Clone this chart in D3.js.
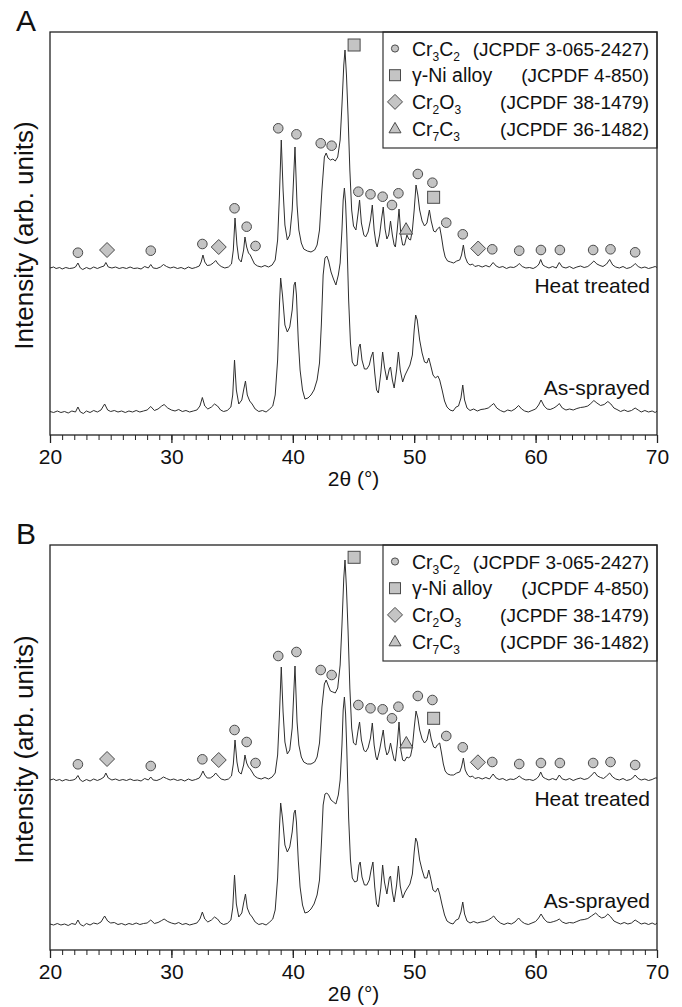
<!DOCTYPE html>
<html>
<head>
<meta charset="utf-8">
<script src="https://cdn.jsdelivr.net/npm/d3@7"></script>
<style>
body { margin: 0; background: #fff; }
svg { display: block; font-family: "Liberation Sans", Arial, sans-serif; }
</style>
</head>
<body>
<svg id="chart" width="682" height="1007"></svg>
<script>
// 2theta (deg), intensity (arb. units, offset traces as plotted)
const heatA = [[20.0,167],[20.3,168],[20.5,166.5],[20.8,167.5],[21.0,166],[21.3,167.5],[21.6,166.5],[21.9,167],[22.1,168],[22.3,172],[22.5,167],[22.7,165.5],[23.0,167.5],[23.3,166],[23.6,168],[23.9,166.5],[24.2,168],[24.45,169],[24.6,172.5],[24.8,168],[25.1,167],[25.4,168],[25.7,166.5],[26.0,167.5],[26.3,166.5],[26.6,168],[26.9,166.5],[27.2,167],[27.5,166],[27.8,168.5],[28.1,167],[28.3,170.5],[28.5,167],[28.8,166.5],[29.1,168],[29.35,170.5],[29.6,168.5],[29.9,167],[30.2,168],[30.5,166.5],[30.8,167.5],[31.1,166],[31.4,168],[31.7,166.5],[32.0,167.5],[32.3,169],[32.45,173],[32.6,180],[32.75,173],[32.95,169.5],[33.2,170],[33.45,172],[33.65,174.5],[33.85,171],[34.1,168.5],[34.4,167],[34.7,168],[34.95,171],[35.1,185],[35.24,217],[35.4,190],[35.55,176],[35.75,173],[35.95,185],[36.06,198],[36.2,188],[36.35,182],[36.5,180],[36.65,176],[36.85,171],[37.1,169],[37.4,168],[37.7,169.5],[38.0,168],[38.3,170],[38.55,175],[38.75,195],[38.9,240],[39.05,295],[39.2,245],[39.35,210],[39.55,195],[39.75,200],[39.95,225],[40.18,288],[40.35,230],[40.5,205],[40.7,192],[40.9,186],[41.2,184],[41.5,183],[41.8,185],[42.0,190],[42.2,205],[42.4,245],[42.6,278],[42.75,282],[42.9,277],[43.1,275],[43.3,276],[43.5,274],[43.7,278],[43.9,295],[44.05,330],[44.2,370],[44.3,385],[44.42,360],[44.55,320],[44.7,265],[44.85,225],[45.0,209],[45.2,205],[45.38,222],[45.5,235],[45.65,212],[45.85,200],[46.0,198],[46.2,203],[46.4,215],[46.55,230],[46.7,205],[46.85,192],[46.95,188],[47.15,200],[47.3,215],[47.45,228],[47.6,206],[47.75,196],[47.9,200],[48.05,214],[48.2,200],[48.35,190],[48.45,188],[48.6,205],[48.75,226],[48.9,200],[49.05,190],[49.2,190],[49.4,200],[49.55,196],[49.7,195],[49.85,205],[50.0,225],[50.15,250],[50.3,240],[50.45,225],[50.65,214],[50.85,209],[51.05,212],[51.25,225],[51.4,214],[51.6,204],[51.75,203],[51.9,206],[52.1,208],[52.25,198],[52.4,186],[52.55,178],[52.75,174],[53.0,173],[53.25,172],[53.5,174],[53.75,175],[53.9,180],[54.05,190],[54.2,178],[54.4,172],[54.6,170],[54.8,171],[55.0,168.5],[55.3,169.5],[55.6,168],[55.9,169.5],[56.2,168],[56.5,172.5],[56.75,169],[57.0,167.5],[57.3,168.5],[57.6,166.5],[57.9,168],[58.2,167.5],[58.45,169],[58.65,171.5],[58.9,168.5],[59.2,167],[59.5,167.5],[59.8,166.5],[60.1,168.5],[60.28,171],[60.42,175.5],[60.6,170],[60.8,168.5],[61.1,167],[61.4,168.5],[61.7,167],[61.95,172.5],[62.2,168],[62.5,167],[62.8,168.5],[63.1,166.5],[63.4,168],[63.7,169],[64.0,167.5],[64.3,168.5],[64.55,171],[64.8,174],[65.05,171],[65.3,169.5],[65.55,168.5],[65.85,171],[66.1,175.5],[66.35,170],[66.6,168],[66.9,167],[67.2,168.5],[67.5,166.5],[67.8,167.5],[68.0,169],[68.2,171.5],[68.45,168.5],[68.7,167],[69.0,168],[69.3,166.5],[69.6,167.5],[69.85,168.5],[70.0,167.5]];

const sprayedA = [[20.0,23.5],[20.3,22.5],[20.6,24],[20.9,22.5],[21.2,23.5],[21.5,22],[21.8,24],[22.1,23],[22.3,28],[22.5,23],[22.75,21.5],[23.0,24],[23.3,22.5],[23.6,24.5],[23.9,23],[24.2,25],[24.5,31],[24.75,25],[25.0,23.5],[25.3,24.5],[25.6,23],[25.9,24],[26.2,22.5],[26.5,24],[26.8,23],[27.1,24.5],[27.4,23],[27.7,24],[28.0,25],[28.3,28.5],[28.6,24.5],[28.9,26],[29.2,29],[29.4,30.5],[29.7,27],[30.0,25],[30.3,24],[30.6,25.5],[30.9,23.5],[31.2,24.5],[31.5,23],[31.8,24],[32.1,25],[32.35,29],[32.55,37.5],[32.75,29],[33.0,26],[33.3,28],[33.55,31],[33.8,29],[34.05,25],[34.3,23.5],[34.6,24.5],[34.9,28],[35.05,40],[35.2,75],[35.35,45],[35.55,31],[35.8,35],[35.95,45],[36.1,54],[36.25,40],[36.45,34],[36.65,31],[36.9,26],[37.2,23.5],[37.5,24.5],[37.8,23],[38.1,26],[38.35,29],[38.55,40],[38.75,75],[38.9,130],[39.0,157],[39.15,140],[39.35,110],[39.55,103],[39.75,108],[39.95,125],[40.1,150],[40.2,153],[40.3,140],[40.45,95],[40.6,65],[40.8,45],[41.0,36],[41.25,37],[41.5,40],[41.75,45],[42.0,55],[42.2,72],[42.35,110],[42.5,160],[42.65,177],[42.8,179],[42.95,174],[43.15,163],[43.35,156],[43.55,150],[43.75,160],[43.9,172],[44.05,205],[44.15,235],[44.25,247],[44.35,232],[44.45,200],[44.6,135],[44.75,92],[44.9,73],[45.1,69],[45.3,70],[45.45,88],[45.55,91],[45.7,75],[45.9,66],[46.1,66],[46.3,70],[46.45,78],[46.6,83],[46.75,62],[46.9,45],[47.05,42],[47.25,62],[47.4,83],[47.55,68],[47.75,55],[47.95,66],[48.05,68],[48.2,55],[48.35,47],[48.55,65],[48.7,83],[48.85,65],[49.05,53],[49.25,60],[49.45,65],[49.65,70],[49.85,80],[50.0,105],[50.12,120],[50.25,115],[50.45,95],[50.65,82],[50.85,73],[51.05,72],[51.2,77],[51.35,70],[51.55,60],[51.75,57],[51.95,59],[52.1,55],[52.3,45],[52.5,34],[52.7,28],[52.95,25],[53.2,24],[53.45,28],[53.65,29],[53.85,37],[54.0,50],[54.15,35],[54.35,27],[54.6,24.5],[54.9,26],[55.2,24],[55.5,25.5],[55.8,26],[56.1,27],[56.35,29.5],[56.55,31.5],[56.8,27],[57.1,24.5],[57.4,23],[57.7,25],[58.0,24],[58.3,26],[58.6,29.5],[58.85,26],[59.1,24],[59.4,23],[59.7,24.5],[60.0,26],[60.25,30],[60.45,35],[60.7,29],[60.95,26],[61.2,25.5],[61.5,27],[61.75,29],[61.95,31.5],[62.2,27],[62.5,25],[62.8,26],[63.1,25],[63.4,26.5],[63.7,27.5],[64.0,28],[64.3,29],[64.55,31.5],[64.8,34.5],[65.05,32],[65.35,29.5],[65.65,30.5],[65.95,33.5],[66.2,31],[66.45,27],[66.7,25.5],[67.0,23.5],[67.3,25],[67.6,23.5],[67.9,24.5],[68.2,27],[68.45,25],[68.7,23],[69.0,24.5],[69.3,23],[69.6,24],[69.85,22.5],[70.0,24]];

const heatB = [[20.0,170],[20.3,171],[20.5,169.5],[20.8,170.5],[21.0,169],[21.3,170.5],[21.6,169.5],[21.9,170],[22.1,171],[22.3,174.5],[22.5,170],[22.7,168.5],[23.0,170.5],[23.3,169],[23.6,171],[23.9,169.5],[24.2,171],[24.45,173],[24.6,177],[24.8,172],[25.1,170],[25.4,171],[25.7,169.5],[26.0,170.5],[26.3,169.5],[26.6,171],[26.9,169.5],[27.2,170],[27.5,169],[27.8,171.5],[28.1,170],[28.3,173],[28.5,170],[28.8,169.5],[29.1,171],[29.35,173],[29.6,171.5],[29.9,170],[30.2,171],[30.5,169.5],[30.8,170.5],[31.1,169],[31.4,171],[31.7,169.5],[32.0,170.5],[32.3,172],[32.45,175],[32.6,179],[32.75,175],[32.95,172],[33.2,172],[33.45,174],[33.65,177],[33.85,174],[34.1,171],[34.4,170],[34.7,171],[34.95,174],[35.1,186],[35.24,210],[35.4,188],[35.55,178],[35.75,176],[35.95,185],[36.06,195],[36.2,187],[36.35,183],[36.5,181],[36.65,178],[36.85,174],[37.1,172],[37.4,171],[37.7,172.5],[38.0,171],[38.3,173],[38.55,177],[38.75,195],[38.9,235],[39.05,283],[39.2,238],[39.35,208],[39.55,196],[39.75,200],[39.95,222],[40.18,284],[40.35,228],[40.5,205],[40.7,193],[40.9,188],[41.2,186],[41.5,186],[41.8,188],[42.0,193],[42.2,207],[42.4,243],[42.6,266],[42.75,270],[42.9,265],[43.1,259],[43.3,258],[43.5,257],[43.7,262],[43.9,285],[44.05,325],[44.2,372],[44.3,390],[44.42,362],[44.55,320],[44.7,262],[44.85,222],[45.0,207],[45.2,205],[45.38,220],[45.5,228],[45.65,210],[45.85,200],[46.0,198],[46.2,202],[46.4,212],[46.55,227],[46.7,205],[46.85,193],[46.95,190],[47.15,200],[47.3,210],[47.45,220],[47.6,203],[47.75,195],[47.9,198],[48.05,207],[48.2,198],[48.35,190],[48.45,189],[48.6,205],[48.75,228],[48.9,200],[49.05,190],[49.2,189],[49.4,193],[49.55,192],[49.7,194],[49.85,203],[50.0,222],[50.15,239],[50.3,232],[50.45,220],[50.65,211],[50.85,207],[51.05,210],[51.25,221],[51.4,211],[51.6,203],[51.75,202],[51.9,205],[52.1,207],[52.25,197],[52.4,186],[52.55,179],[52.75,176],[53.0,175],[53.25,175],[53.5,177],[53.75,178],[53.9,183],[54.05,192],[54.2,180],[54.4,175],[54.6,173],[54.8,174],[55.0,171.5],[55.3,172.5],[55.6,171],[55.9,172.5],[56.2,171],[56.5,176],[56.75,172],[57.0,170.5],[57.3,171.5],[57.6,169.5],[57.9,171],[58.2,170.5],[58.45,172],[58.65,174],[58.9,171.5],[59.2,170],[59.5,170.5],[59.8,169.5],[60.1,171.5],[60.28,174],[60.42,178],[60.6,173],[60.8,171.5],[61.1,170],[61.4,171.5],[61.7,170],[61.95,175],[62.2,171],[62.5,170],[62.8,171.5],[63.1,169.5],[63.4,171],[63.7,172],[64.0,170.5],[64.3,171.5],[64.55,174],[64.85,178],[65.1,174],[65.35,172.5],[65.6,171.5],[65.85,174],[66.1,177],[66.35,173],[66.6,171],[66.9,170],[67.2,171.5],[67.5,169.5],[67.8,170.5],[68.0,172],[68.2,175],[68.45,171.5],[68.7,170],[69.0,171],[69.3,169.5],[69.6,170.5],[69.85,172],[70.0,172]];

const sprayedB = [[20.0,26],[20.3,25],[20.6,26.5],[20.9,25],[21.2,26],[21.5,24.5],[21.8,26.5],[22.1,25.5],[22.3,30],[22.5,25.5],[22.75,24],[23.0,26.5],[23.3,25],[23.6,27],[23.9,26],[24.2,28],[24.5,34],[24.75,29],[25.0,27],[25.3,27.5],[25.6,25.5],[25.9,26.5],[26.2,25],[26.5,26.5],[26.8,25.5],[27.1,27],[27.4,25.5],[27.7,26.5],[28.0,27],[28.3,30],[28.6,26.5],[28.9,27.5],[29.2,29.5],[29.4,31],[29.7,28.5],[30.0,27],[30.3,26],[30.6,27.5],[30.9,25.5],[31.2,26.5],[31.5,25],[31.8,26],[32.1,27],[32.35,31],[32.55,38],[32.75,31],[33.0,28],[33.3,30],[33.55,33],[33.8,31],[34.05,27],[34.3,25.5],[34.6,26.5],[34.9,30],[35.05,42],[35.2,75],[35.35,46],[35.55,33],[35.8,37],[35.95,47],[36.1,56],[36.25,42],[36.45,36],[36.65,33],[36.9,28],[37.2,25.5],[37.5,26.5],[37.8,25],[38.1,28],[38.35,31],[38.55,40],[38.75,72],[38.9,122],[39.0,147],[39.15,132],[39.35,105],[39.55,98],[39.75,103],[39.95,118],[40.1,137],[40.2,140],[40.3,128],[40.45,90],[40.6,63],[40.8,45],[41.0,37],[41.25,38],[41.5,41],[41.75,46],[42.0,55],[42.2,70],[42.35,105],[42.5,145],[42.65,156],[42.8,157],[42.95,155],[43.15,150],[43.35,148],[43.55,146],[43.75,155],[43.9,170],[44.05,205],[44.15,240],[44.25,253],[44.35,236],[44.45,200],[44.6,132],[44.75,90],[44.9,72],[45.1,68],[45.3,69],[45.45,85],[45.55,88],[45.7,73],[45.9,65],[46.1,65],[46.3,70],[46.45,80],[46.6,88],[46.75,63],[46.9,46],[47.05,43],[47.25,62],[47.4,85],[47.55,68],[47.75,56],[47.95,72],[48.05,74],[48.2,58],[48.35,48],[48.55,65],[48.7,84],[48.85,64],[49.05,52],[49.25,58],[49.45,62],[49.65,66],[49.85,76],[50.0,98],[50.12,112],[50.25,108],[50.45,90],[50.65,80],[50.85,72],[51.05,72],[51.2,80],[51.35,72],[51.55,60],[51.75,58],[51.95,62],[52.1,56],[52.3,45],[52.5,35],[52.7,29],[52.95,27],[53.2,26],[53.45,30],[53.65,31],[53.85,38],[54.0,48],[54.15,36],[54.35,29],[54.6,27],[54.9,28.5],[55.2,27],[55.5,28],[55.8,28.5],[56.1,30],[56.35,32],[56.55,34],[56.8,30],[57.1,27],[57.4,25.5],[57.7,27],[58.0,26],[58.3,28],[58.6,32],[58.85,28.5],[59.1,26.5],[59.4,25.5],[59.7,27],[60.0,28.5],[60.25,32],[60.45,36],[60.7,31],[60.95,28],[61.2,27.5],[61.5,28.5],[61.75,29.5],[61.95,31],[62.2,28],[62.5,26.5],[62.8,27.5],[63.1,27],[63.4,28.5],[63.7,30],[64.0,30.5],[64.3,31.5],[64.6,34],[64.95,37],[65.2,34],[65.45,32],[65.7,33],[65.95,36],[66.2,33],[66.45,29],[66.7,27.5],[67.0,26],[67.3,27.5],[67.6,26],[67.9,27],[68.2,30],[68.45,28],[68.7,26],[69.0,27],[69.3,25.5],[69.6,27],[69.85,25.5],[70.0,27]];

// phase markers [2theta, height]
const cr3c2A = [[22.3,182.3],[28.3,184.3],[32.55,191],[35.2,226.7],[36.2,208.3],[36.93,189],[38.8,306.7],[40.3,300.7],[42.3,291.7],[43.2,289.3],[45.4,243.3],[46.4,240.7],[47.4,238.3],[48.17,230],[48.7,241.7],[50.3,261],[51.5,252.3],[52.64,212.3],[54.0,200.7],[56.43,185.7],[58.65,184.3],[60.44,185],[62.0,185],[64.74,185],[66.17,185.7],[68.2,182.7]];
const niA = [[45.05,390],[51.6,237.7]];
const cr2o3A = [[24.7,185],[33.9,188],[55.27,186.5]];
const cr7c3A = [[49.33,205.5]];

const cr3c2B = [[22.3,185.7],[28.3,184],[32.55,190.7],[35.2,220],[36.2,208],[36.93,187],[38.8,294],[40.3,298],[42.3,280],[43.2,275],[45.4,245],[46.4,241.7],[47.4,240.7],[48.17,231.7],[48.7,243.3],[50.3,254],[51.5,250],[52.64,214],[54.0,202.7],[56.43,188],[58.65,186],[60.44,187],[62.0,187],[64.74,187],[66.17,188],[68.2,185]];
const niB = [[45.05,392.7],[51.6,231.7]];
const cr2o3B = [[24.7,191],[33.9,190],[55.25,187.7]];
const cr7c3B = [[49.35,206.7]];

const xTicks = [20, 30, 40, 50, 60, 70];
const legendRows = [
    { sym: "circle", parts: [["Cr"], ["3", 1], ["C"], ["2", 1]], ref: "(JCPDF 3-065-2427)" },
    { sym: "square", parts: [["\u03b3-Ni alloy"]], ref: "(JCPDF 4-850)" },
    { sym: "diamond", parts: [["Cr"], ["2", 1], ["O"], ["3", 1]], ref: "(JCPDF 38-1479)" },
    { sym: "triangle", parts: [["Cr"], ["7", 1], ["C"], ["3", 1]], ref: "(JCPDF 36-1482)" }
];

const svg = d3.select("#chart");
const left = 50, right = 657;
const markFill = "#c4c4c4", markStroke = "#4a4a4a";

function symbol(g, type, x, y, s) {
    if (type === "circle") {
        g.append("circle").attr("cx", x).attr("cy", y).attr("r", s);
    } else if (type === "square") {
        g.append("rect").attr("x", x - s / 2).attr("y", y - s / 2).attr("width", s).attr("height", s);
    } else if (type === "diamond") {
        g.append("path").attr("d", `M${x},${y - s}L${x + s},${y}L${x},${y + s}L${x - s},${y}Z`);
    } else {
        g.append("path").attr("d", `M${x},${y - s * 0.62}L${x + s * 0.6},${y + s * 0.42}L${x - s * 0.6},${y + s * 0.42}Z`);
    }
}

function drawPanel(p) {
    const x = d3.scaleLinear().domain([20, 70]).range([left, right]);
    const y = d3.scaleLinear().domain([0, p.yMax]).range([p.bottom, p.top]);
    const g = svg.append("g");

    const line = d3.line().x(d => x(d[0])).y(d => y(d[1]));
    [p.heat, p.sprayed].forEach(s => {
        g.append("path").datum(s)
            .attr("d", line)
            .attr("fill", "none")
            .attr("stroke", "#2e2e2e")
            .attr("stroke-width", 1)
            .attr("stroke-linejoin", "round");
    });

    const marks = g.append("g").attr("fill", markFill).attr("stroke", markStroke).attr("stroke-width", 1);
    p.cr3c2.forEach(d => symbol(marks, "circle", x(d[0]), y(d[1]), 4.8));
    p.ni.forEach(d => symbol(marks, "square", x(d[0]), y(d[1]), 12));
    p.cr2o3.forEach(d => symbol(marks, "diamond", x(d[0]), y(d[1]), 7.5));
    p.cr7c3.forEach(d => symbol(marks, "triangle", x(d[0]), y(d[1]), 11));

    g.append("text").attr("x", 650).attr("y", y(p.heatLabel))
        .attr("text-anchor", "end").attr("dominant-baseline", "central")
        .attr("font-size", 21).attr("fill", "#111").text("Heat treated");
    g.append("text").attr("x", 650).attr("y", y(p.sprayLabel))
        .attr("text-anchor", "end").attr("dominant-baseline", "central")
        .attr("font-size", 21).attr("fill", "#111").text("As-sprayed");

    // legend box sits in the top right corner of the frame
    const lg = g.append("g").attr("transform", `translate(383, ${p.top})`);
    lg.append("rect").attr("width", right - 383).attr("height", 116)
        .attr("fill", "#fff").attr("stroke", "#333").attr("stroke-width", 1.2);
    legendRows.forEach((r, i) => {
        const by = 23.5 + i * 26.7;
        const sg = lg.append("g").attr("fill", markFill).attr("stroke", markStroke).attr("stroke-width", 1);
        const size = { circle: 3.6, square: 11, diamond: 7.5, triangle: 10 }[r.sym];
        symbol(sg, r.sym, 12, by - 7, size);
        const t = lg.append("text").attr("x", 29).attr("y", by).attr("font-size", 19.5).attr("fill", "#111");
        let shifted = false;
        r.parts.forEach(pt => {
            const ts = t.append("tspan").text(pt[0]);
            if (pt[1]) {
                ts.attr("font-size", 12).attr("dy", 5.5);
                shifted = true;
            } else if (shifted) {
                ts.attr("dy", -5.5);
                shifted = false;
            }
        });
        lg.append("text").attr("x", 266).attr("y", by).attr("text-anchor", "end")
            .attr("font-size", 19).attr("fill", "#111").text(r.ref);
    });

    // frame
    g.append("rect").attr("x", left).attr("y", p.top)
        .attr("width", right - left).attr("height", p.bottom - p.top)
        .attr("fill", "none").attr("stroke", "#222").attr("stroke-width", 1.3);

    const minor = g.append("g").attr("transform", `translate(0, ${p.bottom})`)
        .call(d3.axisBottom(x).tickValues(d3.range(20, 71, 1)).tickSize(5).tickFormat(""));
    minor.select(".domain").remove();
    minor.selectAll("line").attr("stroke", "#222");

    const major = g.append("g").attr("transform", `translate(0, ${p.bottom})`)
        .call(d3.axisBottom(x).tickValues(xTicks).tickSize(8).tickPadding(6));
    major.select(".domain").remove();
    major.selectAll("line").attr("stroke", "#222").attr("stroke-width", 1.3);
    major.selectAll("text").attr("font-size", 21).attr("fill", "#111")
        .attr("font-family", "Liberation Sans, Arial, sans-serif");

    g.append("text").attr("x", (left + right) / 2).attr("y", p.bottom + 43)
        .attr("text-anchor", "middle").attr("dominant-baseline", "central")
        .attr("font-size", 21).attr("fill", "#111").text("2\u03b8 (\u00b0)");

    g.append("text")
        .attr("transform", `translate(33, ${(p.top + p.bottom) / 2 + 2}) rotate(-90)`)
        .attr("text-anchor", "middle").attr("font-size", 26).attr("fill", "#111")
        .text("Intensity (arb. units)");

    g.append("text").attr("x", 16).attr("y", p.top - 1)
        .attr("font-size", 30).attr("fill", "#111").text(p.letter);
}

drawPanel({ letter: "A", top: 32, bottom: 435, yMax: 403, heat: heatA, sprayed: sprayedA,
    cr3c2: cr3c2A, ni: niA, cr2o3: cr2o3A, cr7c3: cr7c3A, heatLabel: 150, sprayLabel: 48 });
drawPanel({ letter: "B", top: 545, bottom: 950, yMax: 405, heat: heatB, sprayed: sprayedB,
    cr3c2: cr3c2B, ni: niB, cr2o3: cr2o3B, cr7c3: cr7c3B, heatLabel: 152, sprayLabel: 50 });
</script>
</body>
</html>
